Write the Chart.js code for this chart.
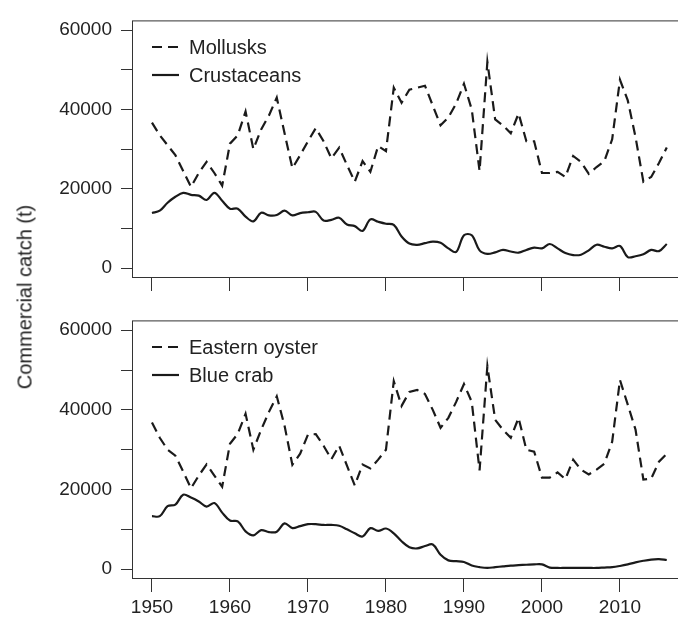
<!DOCTYPE html>
<html>
<head>
<meta charset="utf-8">
<script src="https://cdn.jsdelivr.net/npm/chart.js@4.4.1/dist/chart.umd.min.js"></script>
<style>
  body { margin: 0; background: #fff; width: 678px; height: 621px; overflow: hidden; position: relative; }
  #topBox { position: absolute; left: 0; top: 0; width: 678px; height: 300px; }
  #bottomBox { position: absolute; left: 0; top: 300px; width: 678px; height: 321px; }
  #yTitle {
    position: absolute; left: 25px; top: 297px;
    transform: translate(-50%, -50%) rotate(-90deg);
    font-family: "Liberation Sans", Arial, sans-serif; font-size: 20px; color: #222;
    white-space: nowrap;
  }
</style>
</head>
<body>
<div id="topBox"><canvas id="topChart"></canvas></div>
<div id="bottomBox"><canvas id="bottomChart"></canvas></div>
<div id="yTitle">Commercial catch (t)</div>

<script>
var years = [1950, 1951, 1952, 1953, 1954, 1955, 1956, 1957, 1958, 1959,
  1960, 1961, 1962, 1963, 1964, 1965, 1966, 1967, 1968, 1969,
  1970, 1971, 1972, 1973, 1974, 1975, 1976, 1977, 1978, 1979,
  1980, 1981, 1982, 1983, 1984, 1985, 1986, 1987, 1988, 1989,
  1990, 1991, 1992, 1993, 1994, 1995, 1996, 1997, 1998, 1999,
  2000, 2001, 2002, 2003, 2004, 2005, 2006, 2007, 2008, 2009,
  2010, 2011, 2012, 2013, 2014, 2015, 2016];

//Top panel
var mollusks = [36700, 33500, 31000, 28500, 24500, 20500, 24000, 26800, 24000, 20800,
  31400, 33500, 39500, 30000, 35000, 38500, 43000, 34000, 25200, 28500,
  32000, 35300, 32000, 27700, 30400, 26000, 21800, 27000, 24300, 30800,
  29500, 45500, 41700, 45000, 45500, 46000, 41000, 36000, 38000, 41500,
  46500, 40000, 24500, 52000, 37500, 36000, 34000, 39000, 32000, 32000,
  24000, 24000, 24300, 23000, 28300, 26800, 23800, 25500, 27000, 32500,
  47500, 42300, 33000, 21800, 23000, 26500, 30400];
var crustaceans = [13900, 14500, 16500, 18000, 19000, 18500, 18300, 17200, 19000, 17000,
  15000, 15000, 13000, 11800, 14000, 13300, 13400, 14500, 13300, 13900,
  14100, 14200, 12000, 12200, 12700, 11000, 10600, 9400, 12300, 11700,
  11200, 10900, 8000, 6200, 5900, 6300, 6700, 6400, 5000, 4100,
  8300, 8300, 4500, 3600, 4000, 4600, 4200, 3900, 4600, 5200,
  5000, 6100, 5000, 3800, 3300, 3400, 4500, 5900, 5400, 5000,
  5600, 2800, 3000, 3500, 4600, 4300, 6100];

//Bottom panel
var oyster = [36800, 33000, 30000, 28500, 24500, 20300, 23500, 26300, 23500, 20700,
  31500, 34000, 39000, 30000, 35000, 39500, 43400, 36000, 26200, 29000,
  33800, 33900, 31000, 27600, 31000, 26000, 21000, 26300, 25300, 27500,
  30000, 47200, 41000, 44500, 45000, 44000, 40000, 35500, 38000, 42000,
  46500, 42000, 24800, 51000, 37500, 35000, 33000, 38000, 30000, 29500,
  23000, 23000, 24300, 22600, 27500, 25000, 23800, 25000, 26500, 32000,
  47500, 41300, 35000, 22500, 22700, 27000, 29000];
var blueCrab = [13300, 13300, 15800, 16200, 18700, 18000, 17000, 15700, 16600, 14200,
  12200, 12000, 9500, 8500, 9800, 9300, 9400, 11500, 10300, 10800,
  11300, 11300, 11100, 11100, 10900, 10000, 9000, 8200, 10300, 9600,
  10200, 9000, 7000, 5500, 5200, 5800, 6200, 3600, 2200, 2000,
  1800, 900, 500, 300, 500, 700, 900, 1000, 1100, 1200,
  1200, 400, 300, 300, 300, 300, 300, 300, 400, 500,
  800, 1200, 1700, 2100, 2400, 2500, 2300];

var yTicks = [0, 10000, 20000, 30000, 40000, 50000, 60000];
var yLabels = [0, 20000, 40000, 60000];
var xTicks = [1950, 1960, 1970, 1980, 1990, 2000, 2010];

var font = "'Liberation Sans', Arial, sans-serif";
var ink = "#1a1a1a";
var axisInk = "#333";
var dash = [10, 6];

function toPoints(values) {
  return years.map(function (y, i) { return { x: y, y: values[i] }; });
}

//box around the plot area (right side runs off the picture)
var boxPlugin = {
  id: 'box',
  afterDraw: function (chart) {
    var a = chart.chartArea;
    var ctx = chart.ctx;
    ctx.save();
    ctx.strokeStyle = axisInk;
    ctx.lineWidth = 1;
    ctx.strokeRect(a.left + 0.5, a.top + 0.5, a.right - a.left + 10, a.bottom - a.top);
    ctx.restore();
  }
};

//legend drawn in the top-left corner
var legendPlugin = {
  id: 'cornerLegend',
  afterDraw: function (chart, args, opts) {
    var ctx = chart.ctx;
    ctx.save();
    ctx.font = "20px " + font;
    ctx.textBaseline = 'middle';
    opts.items.forEach(function (item, i) {
      var y = opts.y + i * opts.gap;
      ctx.strokeStyle = ink;
      ctx.lineWidth = 2.2;
      ctx.setLineDash(item.dash);
      ctx.beginPath();
      ctx.moveTo(opts.x, y);
      ctx.lineTo(opts.x + 27, y);
      ctx.stroke();
      ctx.setLineDash([]);
      ctx.fillStyle = "#222";
      ctx.fillText(item.text, opts.x + 37, y + 1);
    });
    ctx.restore();
  }
};

function makeChart(id, dashedValues, solidValues, legendItems, showYears, xHeight) {
  return new Chart(document.getElementById(id), {
    type: 'line',
    data: {
      datasets: [{
        data: toPoints(dashedValues),
        borderColor: ink,
        borderWidth: 2.2,
        borderDash: dash,
        pointRadius: 0,
        tension: 0,
        fill: false
      }, {
        data: toPoints(solidValues),
        borderColor: ink,
        borderWidth: 2.2,
        pointRadius: 0,
        tension: 0.35,
        fill: false
      }]
    },
    options: {
      responsive: true,
      maintainAspectRatio: false,
      animation: false,
      layout: { padding: { top: 15, right: 0, left: 0, bottom: 0 } },
      plugins: {
        legend: { display: false },
        tooltip: { enabled: false },
        cornerLegend: { x: 152, y: 47, gap: 28, items: legendItems }
      },
      scales: {
        x: {
          type: 'linear',
          min: 1947.44,
          max: 2017.44,
          afterBuildTicks: function (scale) {
            scale.ticks = xTicks.map(function (v) { return { value: v }; });
          },
          afterFit: function (scale) { scale.height = xHeight; },
          border: { display: false },
          grid: { drawOnChartArea: false, drawTicks: true, tickLength: 14, color: axisInk, tickColor: axisInk },
          ticks: {
            padding: 4,
            color: "#222",
            font: { family: font, size: 19 },
            maxRotation: 0,
            autoSkip: false,
            callback: function (v) { return showYears ? String(v) : ''; }
          }
        },
        y: {
          min: -2222,
          max: 62469,
          afterBuildTicks: function (scale) {
            scale.ticks = yTicks.map(function (v) { return { value: v }; });
          },
          afterFit: function (scale) { scale.width = 132; },
          border: { display: false },
          grid: { drawOnChartArea: false, drawTicks: true, tickLength: 11, color: axisInk, tickColor: axisInk },
          ticks: {
            padding: 9,
            color: "#222",
            font: { family: font, size: 19 },
            autoSkip: false,
            callback: function (v) { return yLabels.indexOf(v) >= 0 ? String(v) : ''; }
          }
        }
      }
    },
    plugins: [boxPlugin, legendPlugin]
  });
}

makeChart('topChart', mollusks, crustaceans,
  [{ text: 'Mollusks', dash: dash }, { text: 'Crustaceans', dash: [] }], false, 23);

makeChart('bottomChart', oyster, blueCrab,
  [{ text: 'Eastern oyster', dash: dash }, { text: 'Blue crab', dash: [] }], true, 43);
</script>
</body>
</html>
